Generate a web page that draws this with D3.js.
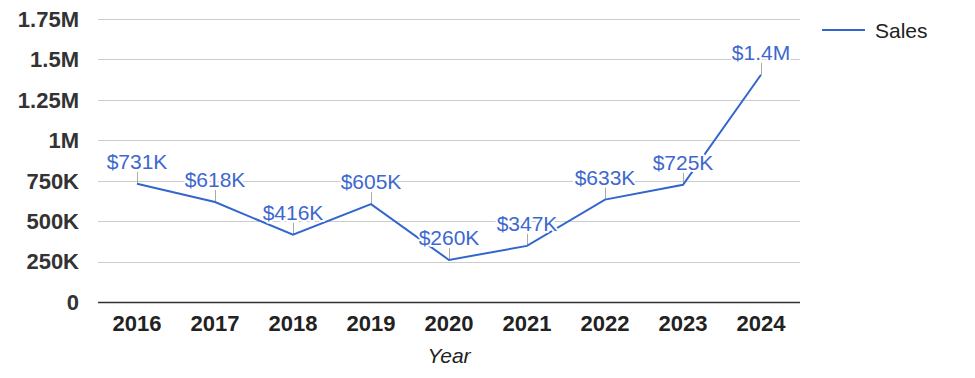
<!DOCTYPE html>
<html><head><meta charset="utf-8">
<script src="https://cdn.jsdelivr.net/npm/d3@7"></script>
<style>body{margin:0;background:#fff}svg{display:block;font-family:"Liberation Sans",Arial,sans-serif}</style>
</head><body><svg id="c" width="975" height="378"></svg>
<script>
const years = ["2016","2017","2018","2019","2020","2021","2022","2023","2024"];
const sales = [731000,618000,416000,605000,260000,347000,633000,725000,1405000];
const labels = ["$731K","$618K","$416K","$605K","$260K","$347K","$633K","$725K","$1.4M"];
const yTicks = [0,250000,500000,750000,1000000,1250000,1500000,1750000];
const yTickLabels = ["0","250K","500K","750K","1M","1.25M","1.5M","1.75M"];

const svg = d3.select("#c");
const L=98,R=800,T=19,B=302;
const x = d3.scaleBand().domain(years).range([L,R]);
const y = d3.scaleLinear().domain([0,1750000]).range([B,T]);

const g = svg.append("g");
g.selectAll("line.grid").data(yTicks.slice(1)).join("line")
 .attr("x1",L).attr("x2",R).attr("y1",d=>Math.round(y(d))+0.5).attr("y2",d=>Math.round(y(d))+0.5)
 .attr("stroke","#cccccc").attr("stroke-width",1);
g.append("line").attr("x1",L).attr("x2",R).attr("y1",B+0.5).attr("y2",B+0.5).attr("stroke","#333").attr("stroke-width",1.5);

g.selectAll("text.yt").data(yTicks).join("text")
 .attr("x",79).attr("y",d=>y(d)).attr("dy","0.36em").attr("text-anchor","end")
 .attr("font-size",22).attr("font-weight","bold").attr("fill","#333")
 .text((d,i)=>yTickLabels[i]);

g.selectAll("text.xt").data(years).join("text")
 .attr("x",d=>x(d)+x.bandwidth()/2).attr("y",331).attr("text-anchor","middle")
 .attr("font-size",22).attr("font-weight","bold").attr("fill","#222").text(d=>d);

g.append("text").attr("x",(L+R)/2).attr("y",363).attr("text-anchor","middle")
 .attr("font-size",21).attr("font-style","italic").attr("fill","#222").text("Year");

const cx = (d,i)=>x(years[i])+x.bandwidth()/2;
// label ticks
g.selectAll("line.lt").data(sales).join("line")
 .attr("x1",(d,i)=>Math.round(cx(d,i))+0.5).attr("x2",(d,i)=>Math.round(cx(d,i))+0.5)
 .attr("y1",d=>y(d)).attr("y2",d=>y(d)-12).attr("stroke","#aaaaaa").attr("stroke-width",1);

const line = d3.line().x((d,i)=>cx(d,i)).y(d=>y(d));
g.append("path").datum(sales).attr("d",line).attr("fill","none").attr("stroke","#3366cc").attr("stroke-width",2);

g.selectAll("text.lb").data(sales).join("text")
 .attr("x",(d,i)=>cx(d,i)).attr("y",d=>y(d)-15).attr("text-anchor","middle")
 .attr("font-size",21).attr("fill","#3d68cf")
 .attr("stroke","#ffffff").attr("stroke-width",4).attr("stroke-linejoin","round").attr("paint-order","stroke")
 .text((d,i)=>labels[i]);

// legend
g.append("line").attr("x1",822).attr("x2",865).attr("y1",30).attr("y2",30).attr("stroke","#3366cc").attr("stroke-width",2);
g.append("text").attr("x",875).attr("y",30).attr("dy","0.36em").attr("font-size",21).attr("fill","#222").text("Sales");
</script></body></html>
